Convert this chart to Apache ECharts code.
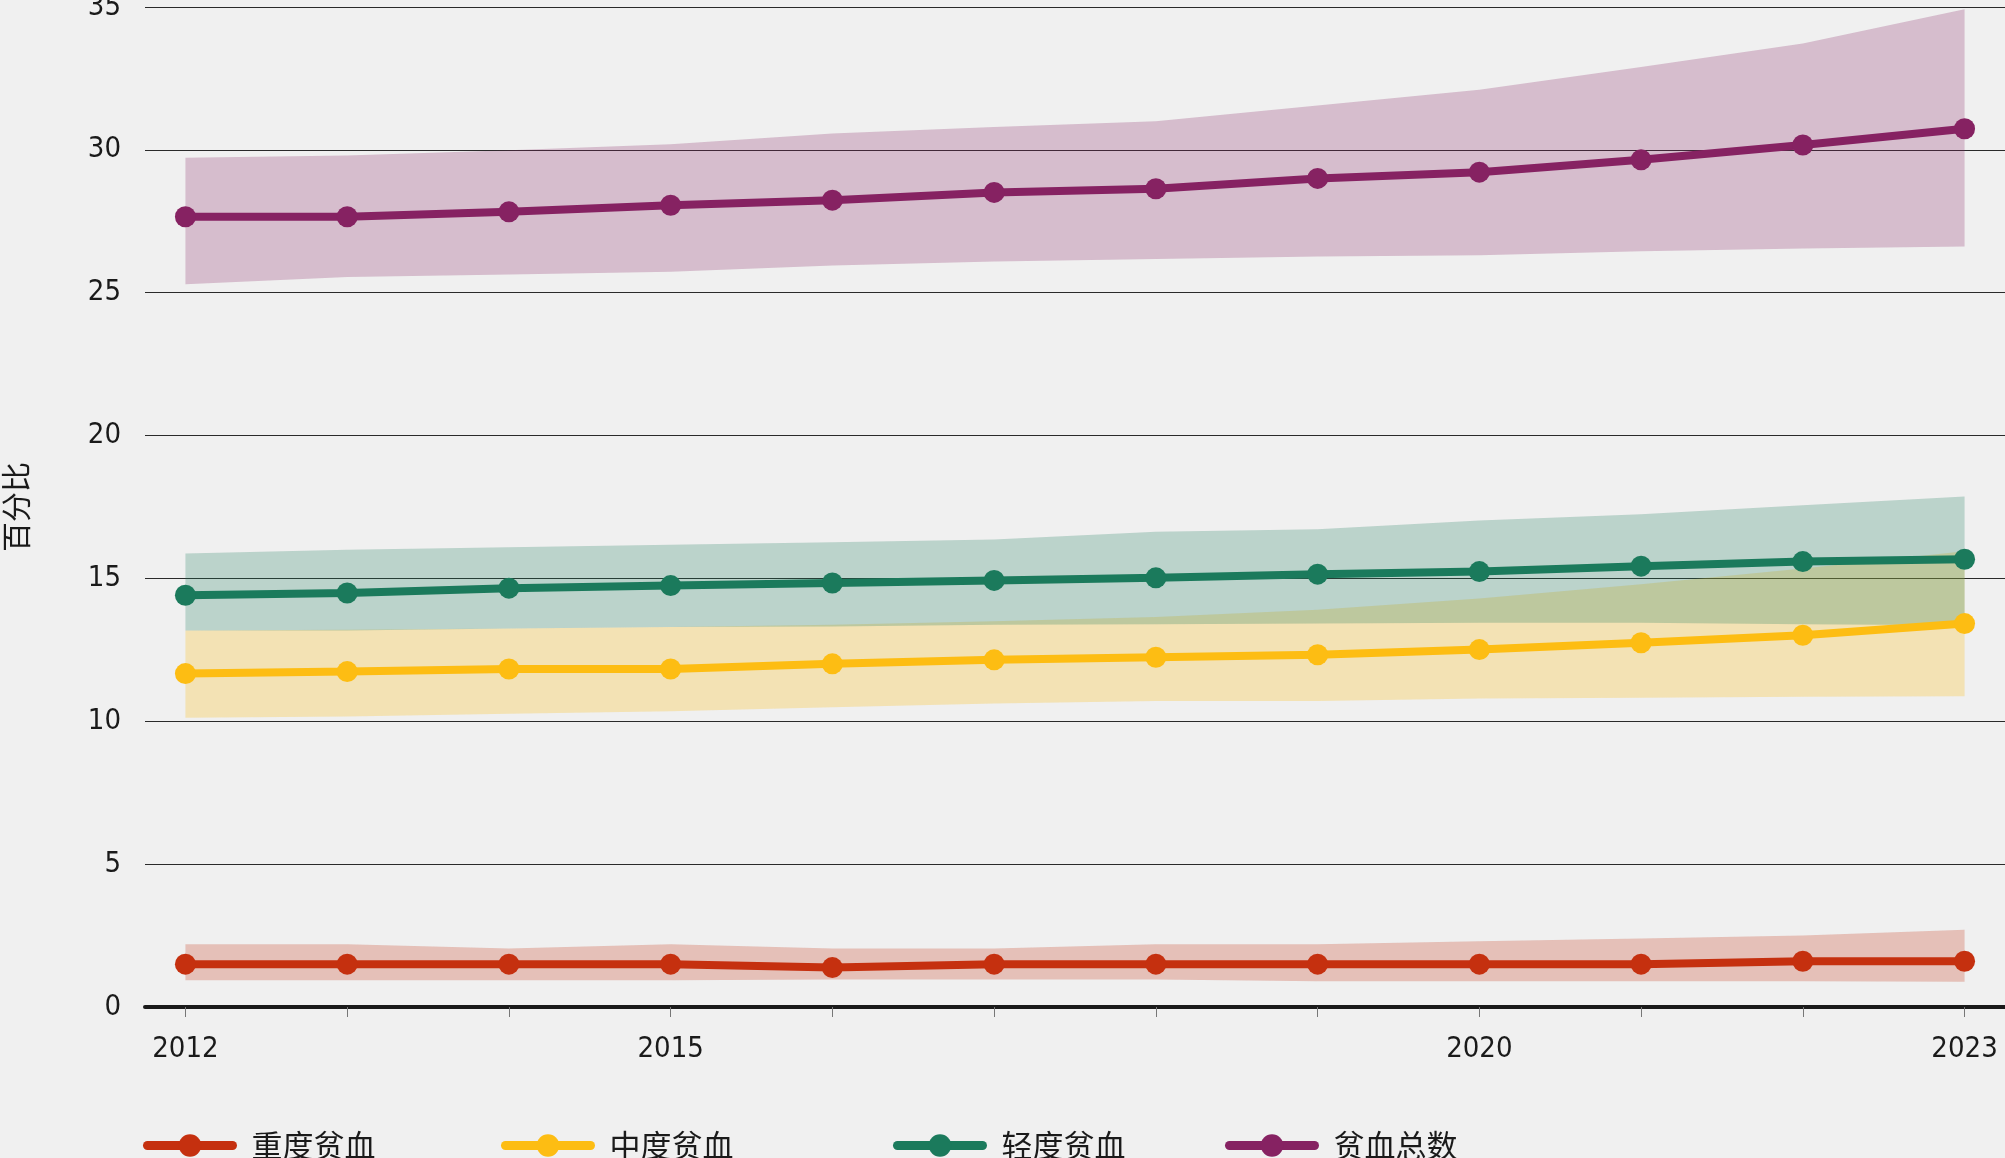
<!DOCTYPE html>
<html>
<head>
<meta charset="utf-8">
<script src="https://cdn.jsdelivr.net/npm/echarts@6/dist/echarts.min.js"></script>
<style>
html,body{margin:0;padding:0;background:#f0f0f0;}
#chart{width:2005px;height:1158px;}
</style>
</head>
<body>
<div id="chart"></div>
<script>
// ---- data ----
const years = [2012, 2013, 2014, 2015, 2016, 2017, 2018, 2019, 2020, 2021, 2022, 2023];
const xLabelYears = [2012, 2015, 2020, 2023];

const seriesNames = ['重度贫血', '中度贫血', '轻度贫血', '贫血总数'];

const severe     = [1.5, 1.5, 1.5, 1.5, 1.38, 1.5, 1.5, 1.5, 1.5, 1.5, 1.6, 1.6];
const severeLow  = [0.94, 0.94, 0.94, 0.94, 0.96, 0.96, 0.96, 0.9, 0.9, 0.9, 0.9, 0.88];
const severeHigh = [2.2, 2.2, 2.05, 2.2, 2.05, 2.05, 2.2, 2.2, 2.3, 2.4, 2.5, 2.7];

const moderate     = [11.67, 11.74, 11.83, 11.83, 12.01, 12.15, 12.24, 12.33, 12.51, 12.75, 13.01, 13.42];
const moderateLow  = [10.12, 10.17, 10.26, 10.35, 10.49, 10.62, 10.71, 10.71, 10.8, 10.82, 10.86, 10.88];
const moderateHigh = [13.18, 13.2, 13.25, 13.3, 13.38, 13.5, 13.65, 13.9, 14.3, 14.8, 15.35, 15.95];

const mild     = [14.41, 14.49, 14.66, 14.75, 14.84, 14.93, 15.02, 15.15, 15.24, 15.43, 15.59, 15.67];
const mildLow  = [13.18, 13.18, 13.25, 13.3, 13.32, 13.38, 13.4, 13.42, 13.45, 13.45, 13.4, 13.36];
const mildHigh = [15.87, 16.0, 16.09, 16.18, 16.27, 16.36, 16.63, 16.72, 17.03, 17.25, 17.56, 17.87];

const total     = [27.66, 27.66, 27.83, 28.06, 28.24, 28.51, 28.64, 29.0, 29.22, 29.65, 30.17, 30.74];
const totalLow  = [25.3, 25.55, 25.64, 25.73, 25.95, 26.09, 26.18, 26.27, 26.31, 26.45, 26.55, 26.62];
const totalHigh = [29.72, 29.8, 29.99, 30.2, 30.57, 30.8, 31.0, 31.55, 32.1, 32.9, 33.72, 34.92];

const yTicks = [0, 5, 10, 15, 20, 25, 30, 35];

// ---- styles ----
const colors = {
  severe: '#c5300f',
  moderate: '#fdbd13',
  mild: '#1b7a5c',
  total: '#862262'
};
const bandColors = {
  severe: 'rgba(197,48,15,0.25)',
  moderate: 'rgba(253,189,19,0.27)',
  mild: 'rgba(27,122,92,0.25)',
  total: 'rgba(134,34,98,0.25)'
};
const numFont = "'Liberation Sans Narrow','DejaVu Sans Condensed','Roboto Condensed','Liberation Sans',sans-serif";
const cjkFont = "'Noto Sans CJK SC','Noto Sans',sans-serif";

function pairs(vals) { return years.map((y, i) => [y, vals[i]]); }

// band drawn as one polygon through the axis scales (api.coord)
function band(lo, hi, color) {
  const rows = years.map((y, i) => [y, lo[i], hi[i]]);
  return {
    type: 'custom', silent: true, z: 1, animation: false, clip: false,
    data: rows,
    encode: { x: 0, y: [1, 2] },
    renderItem: function (params, api) {
      if (params.dataIndex !== 0) return null;
      const upper = rows.map(r => api.coord([r[0], r[2]]));
      const lower = rows.map(r => api.coord([r[0], r[1]])).reverse();
      return {
        type: 'polygon',
        shape: { points: upper.concat(lower) },
        style: { fill: color, stroke: null }
      };
    }
  };
}
function mainLine(name, vals, color) {
  return { type: 'line', name: name, data: pairs(vals), symbol: 'circle', symbolSize: 21,
    itemStyle: { color: color }, lineStyle: { color: color, width: 8 }, z: 5, animation: false };
}

const series = [
  band(totalLow, totalHigh, bandColors.total),
  band(moderateLow, moderateHigh, bandColors.moderate),
  band(mildLow, mildHigh, bandColors.mild),
  band(severeLow, severeHigh, bandColors.severe),
  mainLine(seriesNames[0], severe, colors.severe),
  mainLine(seriesNames[1], moderate, colors.moderate),
  mainLine(seriesNames[2], mild, colors.mild),
  mainLine(seriesNames[3], total, colors.total)
];

const legendLefts = [143, 501, 893, 1225];
const legends = seriesNames.map((n, i) => ({
  data: [n], left: legendLefts[i], top: 1130, padding: 0,
  itemWidth: 85, itemHeight: 28,
  lineStyle: { width: 9, cap: 'round' },
  textStyle: { fontFamily: cjkFont, fontSize: 31, color: '#1a1a1a', padding: [0, 0, 0, 14] },
  selectedMode: false
}));

const chart = echarts.init(document.getElementById('chart'), null, { renderer: 'canvas' });
chart.setOption({
  backgroundColor: '#f0f0f0',
  animation: false,
  grid: { left: 145, right: 0, top: 7, bottom: 151, containLabel: false, outerBoundsMode: 'none' },
  legend: legends,
  xAxis: {
    type: 'value', min: 2011.75, max: 2023.25,
    axisLine: { show: true, onZero: false, lineStyle: { color: '#1a1a1a', width: 4 } },
    axisTick: { show: true, customValues: years, length: 10, lineStyle: { color: '#777', width: 1 } },
    axisLabel: { customValues: xLabelYears, formatter: v => String(v), fontFamily: numFont,
      fontSize: 29, color: '#1a1a1a', margin: 28 },
    splitLine: { show: false }
  },
  yAxis: {
    type: 'value', min: yTicks[0], max: yTicks[yTicks.length - 1], interval: 5,
    name: '百分比', nameLocation: 'middle', nameGap: 114,
    nameTextStyle: { fontFamily: cjkFont, fontSize: 30, color: '#1a1a1a' },
    axisLine: { show: false }, axisTick: { show: false },
    axisLabel: { fontFamily: numFont, fontSize: 29, color: '#1a1a1a', margin: 24 },
    splitLine: { show: true, lineStyle: { color: '#2a2a2a', width: 1 } }
  },
  series: series
});
</script>
</body>
</html>
